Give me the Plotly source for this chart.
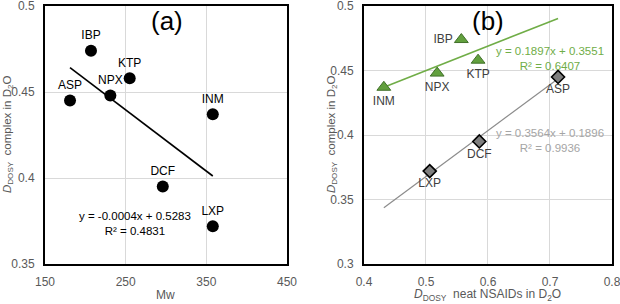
import numpy as np
import plotly.graph_objects as go

# ---- data ----
names_all = ["ASP", "IBP", "NPX", "KTP", "INM", "DCF", "LXP"]
mw = [181, 207, 231, 255, 358, 296, 358]
d_complex = [0.445, 0.474, 0.448, 0.458, 0.437, 0.395, 0.372]

green_names = ["IBP", "NPX", "KTP", "INM"]
green_neat = [0.557, 0.518, 0.584, 0.432]
green_complex = [0.474, 0.448, 0.458, 0.437]
green_pos = ["middle left", "bottom center", "bottom center", "bottom center"]

gray_names = ["ASP", "DCF", "LXP"]
gray_neat = [0.713, 0.586, 0.506]
gray_complex = [0.445, 0.395, 0.372]

eq_a = ["y = -0.0004x + 0.5283", "R² = 0.4831"]
eq_green = ["y = 0.1897x + 0.3551", "R² = 0.6407"]
eq_gray = ["y = 0.3564x + 0.1896", "R² = 0.9936"]

FONT = "Liberation Sans, Arial, sans-serif"
TICK = "#595959"
GREEN = "#70ad47"
GRAY = "#a5a5a5"

fig = go.Figure()

# panel (a)
fig.add_trace(go.Scatter(
    x=mw, y=d_complex, mode="markers+text", text=names_all,
    textposition="top center", textfont=dict(size=12, color="black", family=FONT),
    marker=dict(color="black", size=12), xaxis="x", yaxis="y", showlegend=False))
ca = np.polyfit(mw, d_complex, 1)
xa = np.array([min(mw), max(mw)])
fig.add_trace(go.Scatter(x=xa, y=np.polyval(ca, xa), mode="lines",
                         line=dict(color="black", width=1.6), xaxis="x", yaxis="y",
                         showlegend=False))

# panel (b)
all_neat = green_neat + gray_neat
xb = np.array([min(all_neat), max(all_neat)])
cg = np.polyfit(green_neat, green_complex, 1)
cr = np.polyfit(gray_neat, gray_complex, 1)
fig.add_trace(go.Scatter(x=xb, y=np.polyval(cg, xb), mode="lines",
                         line=dict(color=GREEN, width=1.6), xaxis="x2", yaxis="y2",
                         showlegend=False))
fig.add_trace(go.Scatter(x=xb, y=np.polyval(cr, xb), mode="lines",
                         line=dict(color="#8c8c8c", width=1.2), xaxis="x2", yaxis="y2",
                         showlegend=False))
fig.add_trace(go.Scatter(
    x=green_neat, y=green_complex, mode="markers+text", text=green_names,
    textposition=green_pos, textfont=dict(size=12, color="#404040", family=FONT),
    marker=dict(symbol="triangle-up", color="#62a03e", size=12,
                line=dict(color="#41702a", width=1)),
    xaxis="x2", yaxis="y2", showlegend=False))
fig.add_trace(go.Scatter(
    x=gray_neat, y=gray_complex, mode="markers+text", text=gray_names,
    textposition="bottom center", textfont=dict(size=12, color="#404040", family=FONT),
    marker=dict(symbol="diamond", color="#7f7f7f", size=10,
                line=dict(color="black", width=1.6)),
    xaxis="x2", yaxis="y2", showlegend=False))

axis_common = dict(showline=True, linecolor="black", linewidth=2, mirror=True,
                   showgrid=True, gridcolor="#d9d9d9", gridwidth=1, zeroline=False,
                   ticks="", automargin=False, ticklabeloverflow="allow",
                   tickfont=dict(size=12, color=TICK, family=FONT))

ytitle = "<i>D</i><sub>DOSY</sub>  complex in D<sub>2</sub>O"
fig.update_layout(
    width=620, height=304,
    margin=dict(l=45, r=8, t=6, b=40),
    paper_bgcolor="white", plot_bgcolor="white",
    font=dict(family=FONT, color=TICK),
    xaxis=dict(domain=[0.0, 0.4268], range=[150, 450], tick0=150, dtick=100,
               anchor="y", ticklabelstandoff=6, **axis_common),
    yaxis=dict(domain=[0, 1], range=[0.35, 0.5], tick0=0.35, dtick=0.05, anchor="x",
               ticklabelstandoff=6, **axis_common),
    xaxis2=dict(domain=[0.5626, 1.0], range=[0.4, 0.8], tick0=0.4, dtick=0.1,
                anchor="y2", ticklabelstandoff=6, **axis_common),
    yaxis2=dict(domain=[0, 1], range=[0.3, 0.5], tick0=0.3, dtick=0.05, anchor="x2",
                ticklabelstandoff=6, **axis_common),
)

ann = []
ann.append(dict(x=0.5, y=-0.12, xref="x domain", yref="paper", text="Mw",
                showarrow=False, yanchor="middle",
                font=dict(size=12, color=TICK, family=FONT)))
ann.append(dict(x=0.5, y=-0.12, xref="x2 domain", yref="paper",
                text="<i>D</i><sub>DOSY</sub>  neat NSAIDs in D<sub>2</sub>O",
                showarrow=False, yanchor="middle",
                font=dict(size=12, color=TICK, family=FONT)))
ann.append(dict(x=(8 - 45) / 567, y=0.5, xref="paper", yref="paper", text=ytitle,
                textangle=-90, showarrow=False, xanchor="center", yanchor="middle",
                font=dict(size=11.5, color=TICK, family=FONT)))
ann.append(dict(x=(332 - 45) / 567, y=0.5, xref="paper", yref="paper", text=ytitle,
                textangle=-90, showarrow=False, xanchor="center", yanchor="middle",
                font=dict(size=11.5, color=TICK, family=FONT)))
ann.append(dict(x=301, y=0.491, xref="x", yref="y", text="(a)", showarrow=False,
                font=dict(size=26, color="black", family=FONT)))
ann.append(dict(x=0.6, y=0.488, xref="x2", yref="y2", text="(b)", showarrow=False,
                font=dict(size=26, color="black", family=FONT)))
ann.append(dict(x=262, y=0.3735, xref="x", yref="y", text="<br>".join(eq_a),
                showarrow=False, font=dict(size=11.5, color="black", family=FONT)))
ann.append(dict(x=0.70, y=0.4595, xref="x2", yref="y2", text="<br>".join(eq_green),
                showarrow=False, font=dict(size=11.5, color=GREEN, family=FONT)))
ann.append(dict(x=0.70, y=0.396, xref="x2", yref="y2", text="<br>".join(eq_gray),
                showarrow=False, font=dict(size=11.5, color=GRAY, family=FONT)))
fig.update_layout(annotations=ann)

fig.write_html("out.html", config={"displayModeBar": False},
               post_script="document.body.style.margin='0';document.body.style.padding='0';")
